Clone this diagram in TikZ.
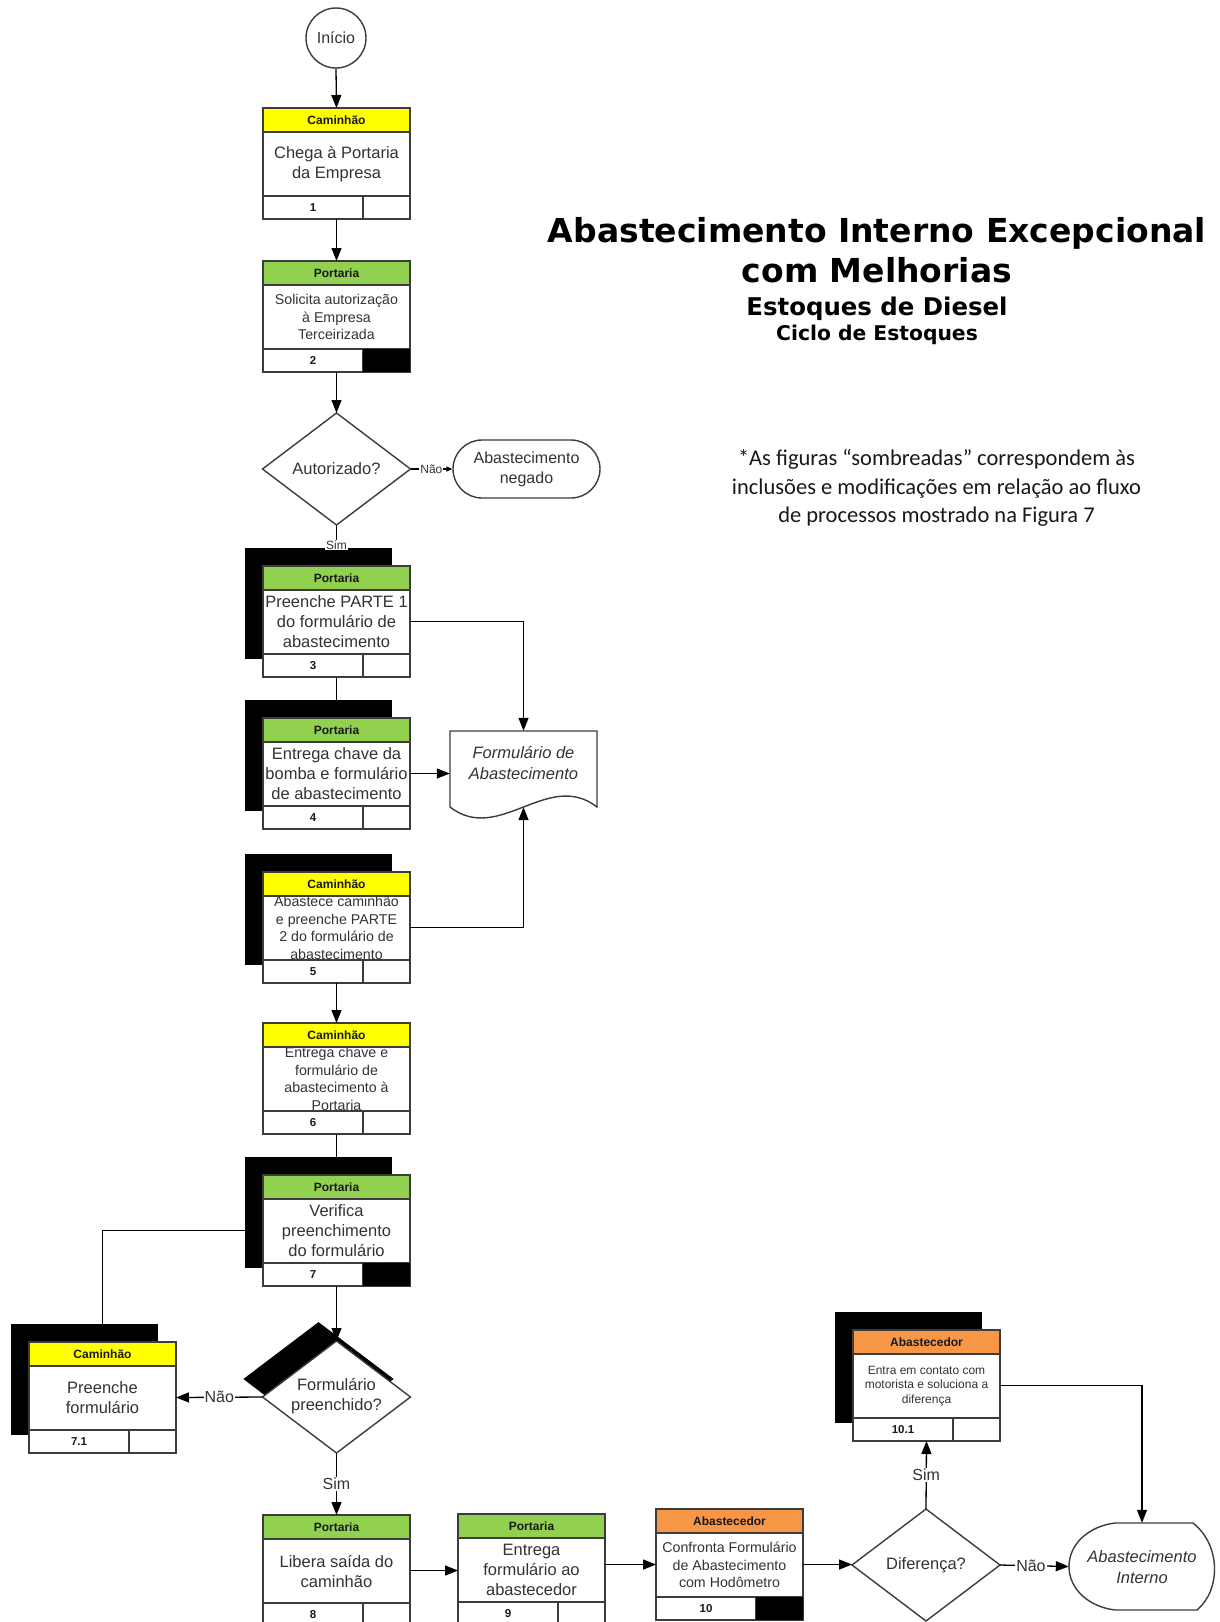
\documentclass[tikz,border=0pt]{standalone}
\usepackage{fontspec}
\setmainfont{Liberation Sans}
\newfontfamily\titlefam{DejaVu Sans}
\newfontfamily\notefam{Carlito}
\usetikzlibrary{arrows.meta,shapes.geometric}

\definecolor{boxline}{HTML}{3C3C3C}
\definecolor{bodyink}{HTML}{333333}
\definecolor{truck}{HTML}{FFFF00}
\definecolor{gate}{HTML}{92D050}
\definecolor{fueler}{HTML}{F79646}

\pgfdeclarelayer{back}
\pgfsetlayers{back,main}

\tikzset{
  boxframe/.style={draw=boxline, line width=1.4pt},
  hull/.style={rectangle, inner sep=0pt, outer sep=0pt, minimum width=147pt, minimum height=111pt, anchor=north west},
  bodytxt/.style={font=\fontsize{16.5}{20}\selectfont, text=bodyink, align=center, inner sep=0pt},
  bodysmall/.style={font=\fontsize{14.2}{17.5}\selectfont, text=bodyink, align=center, inner sep=0pt},
  bodytiny/.style={font=\fontsize{12}{14.7}\selectfont, text=bodyink, align=center, inner sep=0pt},
  bodyital/.style={font=\itshape\fontsize{16.5}{21}\selectfont, text=bodyink, align=center, inner sep=0pt},
  roletxt/.style={font=\bfseries\fontsize{12}{14}\selectfont, text=black!90, inner sep=0pt},
  stepno/.style={font=\bfseries\fontsize{11.5}{13}\selectfont, text=black!90, inner sep=0pt},
  decision/.style={diamond, boxframe, fill=white, minimum width=148pt, minimum height=112pt, inner sep=0pt, outer sep=0pt},
  conn/.style={draw=black, line width=1.3pt, -{Triangle[length=13pt,width=10pt]}},
  connsmall/.style={draw=black, line width=1.3pt, -{Triangle[length=6pt,width=5pt]}},
  lbl/.style={fill=white, inner sep=1pt, font=\fontsize{16}{18}\selectfont, text=bodyink},
  lblsmall/.style={fill=white, inner sep=1pt, font=\fontsize{12}{14}\selectfont, text=bodyink},
  titletxt/.style={font=\titlefam\bfseries\fontsize{33}{40}\selectfont, inner sep=0pt},
  notetxt/.style={font=\notefam\fontsize{22.5}{28}\selectfont, text=black!90, inner sep=0pt},
}

% process box: name, left x, top y, header colour, role, body style, body text, step number
\newcommand\procbox[8]{%
  \node[hull] (#1) at (#2,#3) {};
  \fill[white] (#2,#3) rectangle ++(147,111);
  \node[#6] (#1-txt) at (#2+73.5,#3+56) {#7};
  \fill[#4] (#2,#3) rectangle ++(147,24);
  \node[roletxt] (#1-role) at (#2+73.5,#3+12.5) {#5};
  \fill[white] (#2,#3+88) rectangle ++(147,23);
  \node[stepno] (#1-no) at (#2+50,#3+99.5) {#8};
  \draw[boxframe] (#2,#3) rectangle ++(147,111)
    (#2,#3+24) -- ++(147,0)
    (#2,#3+88) -- ++(147,0)
    (#2+100,#3+88) -- ++(0,23);
}
% black offset block behind a box
\newcommand\boxshade[2]{\fill[black] (#1-18,#2-18) rectangle ++(147,111);}
% filled right-hand cell of a box footer
\newcommand\blackcell[2]{\fill[black] (#1+100,#2+88) rectangle ++(47,23);}

\begin{document}
\begin{tikzpicture}[x=1pt,y=-1pt]
\clip (0,0) rectangle (1219,1622);
\begin{pgfonlayer}{back}
  \fill[white] (0,0) rectangle (1219,1622);
\end{pgfonlayer}

% ---------- title and note ----------
\node[titletxt, anchor=base] (title1) at (877,242) {Abastecimento Interno Excepcional};
\node[titletxt, anchor=base] (title2) at (877,282) {com Melhorias};
\node[titletxt, anchor=base, font=\titlefam\bfseries\fontsize{24.4}{28}\selectfont] (title3) at (877,315) {Estoques de Diesel};
\node[titletxt, anchor=base, font=\titlefam\bfseries\fontsize{20.3}{24}\selectfont] (title4) at (877,340) {Ciclo de Estoques};

\node[notetxt, anchor=base] (note1) at (936.5,465) {*As figuras “sombreadas” correspondem às};
\node[notetxt, anchor=base] (note2) at (936.5,494) {inclusões e modificações em relação ao fluxo};
\node[notetxt, anchor=base] (note3) at (936.5,522) {de processos mostrado na Figura 7};

% ---------- main column ----------
\node[circle, boxframe, fill=white, minimum size=60pt, inner sep=0pt, font=\fontsize{16}{18}\selectfont, text=bodyink] (start) at (336,38) {Início};

\procbox{b1}{263}{108}{truck}{Caminhão}{bodytxt}{Chega à Portaria\\da Empresa}{1}
\procbox{b2}{263}{261}{gate}{Portaria}{bodysmall}{Solicita autorização\\à Empresa\\Terceirizada}{2}
\blackcell{263}{261}

\node[decision] (d1) at (336.5,469) {};
\node[bodytxt] (d1-txt) at (336.5,469) {Autorizado?};

\node[boxframe, rectangle, rounded corners=29pt, fill=white, minimum width=147pt, minimum height=58pt, inner sep=0pt, bodytxt, font=\fontsize{16}{20}\selectfont] (t1) at (526.5,469) {Abastecimento\\negado};

\boxshade{263}{566}
\procbox{b3}{263}{566}{gate}{Portaria}{bodytxt}{Preenche PARTE 1\\do formulário de\\abastecimento}{3}

\boxshade{263}{718}
\procbox{b4}{263}{718}{gate}{Portaria}{bodytxt}{Entrega chave da\\bomba e formulário\\de abastecimento}{4}

% document symbol
\node[rectangle, inner sep=0pt, minimum width=147pt, minimum height=76pt] (doc) at (523.5,769) {};
\draw[boxframe, fill=white] (450,731) -- (597,731) -- (597,807)
  .. controls (548,769) and (499,845) .. (450,807) -- cycle;
\node[bodyital] (doc-txt) at (523.5,763) {Formulário de\\Abastecimento};

\boxshade{263}{872}
\procbox{b5}{263}{872}{truck}{Caminhão}{bodysmall}{Abastece caminhão\\e preenche PARTE\\2 do formulário de\\abastecimento}{5}

\procbox{b6}{263}{1023}{truck}{Caminhão}{bodysmall}{Entrega chave e\\formulário de\\abastecimento à\\Portaria}{6}

\boxshade{263}{1175}
\procbox{b7}{263}{1175}{gate}{Portaria}{bodytxt}{Verifica\\preenchimento\\do formulário}{7}
\blackcell{263}{1175}

\boxshade{29}{1342}
\procbox{b71}{29}{1342}{truck}{Caminhão}{bodytxt}{Preenche\\formulário}{7.1}

\node[decision, fill=black, draw=black] (d2s) at (318.5,1379) {};
\node[decision] (d2) at (336.5,1397) {};
\node[bodytxt] (d2-txt) at (336.5,1396) {Formulário\\preenchido?};

% ---------- bottom row ----------
\procbox{b8}{263}{1515}{gate}{Portaria}{bodytxt}{Libera saída do\\caminhão}{8}
\procbox{b9}{458}{1514}{gate}{Portaria}{bodytxt}{Entrega\\formulário ao\\abastecedor}{9}
\procbox{b10}{656}{1509}{fueler}{Abastecedor}{bodysmall}{Confronta Formulário\\de Abastecimento\\com Hodômetro}{10}
\blackcell{656}{1509}

\node[decision] (d3) at (926,1565) {};
\node[bodytxt] (d3-txt) at (926,1565) {Diferença?};

\boxshade{853}{1330}
\procbox{b101}{853}{1330}{fueler}{Abastecedor}{bodytiny}{Entra em contato com\\motorista e soluciona a\\diferença}{10.1}

% display terminator
\node[rectangle, inner sep=0pt, minimum width=146pt, minimum height=87pt] (t2) at (1142,1566.5) {};
\draw[boxframe, fill=white] (1115,1523) -- (1193,1523)
  .. controls (1221,1545) and (1221,1590) .. (1197,1610) -- (1115,1610)
  .. controls (1090,1607) and (1069,1590) .. (1069,1566.5)
  .. controls (1069,1543) and (1090,1526) .. (1115,1523) -- cycle;
\node[bodyital] (t2-txt) at (1142,1567) {Abastecimento\\Interno};

% ---------- connectors ----------
\begin{pgfonlayer}{back}
  \draw[conn] (d1.south) -- (b3.north);
  \draw[conn] (b3.south) -- (b4.north);
  \draw[conn] (b6.south) -- (b7.north);
  \draw[conn] (b7.west) -| (b71.north);
\end{pgfonlayer}

\draw[conn] (start.south) -- (b1.north);
\draw[conn] (b1.south) -- (b2.north);
\draw[conn] (b2.south) -- (d1.north);
\draw[connsmall] (d1.east) -- node[lblsmall] (nao1) {Não} (t1.west);
\node[lblsmall] (sim1) at (336.5,545) {Sim};
\draw[conn] (b3.east) -| (doc.north);
\draw[conn] (b4.east) -- (b4.east -| doc.west);
\draw[conn] (b5.east) -| (doc.south);
\draw[conn] (b5.south) -- (b6.north);
\draw[conn] (b7.south) -- (d2.north);
\draw[conn] (d2.west) -- node[lbl] (nao2) {Não} (b71.east);
\draw[conn] (d2.south) -- node[lbl] (sim2) {Sim} (b8.north);
\draw[conn] (b8.east) -- (b8.east -| b9.west);
\draw[conn] (b9.east |- b10.west) -- (b10.west);
\draw[conn] (b10.east) -- (b10.east -| d3.west);
\draw[conn] (d3.north) -- node[lbl] (sim3) {Sim} (b101.south);
\draw[conn] (d3.east) -- node[lbl, pos=0.45] (nao3) {Não} (t2.west);
\draw[conn] (b101.east) -| (t2.north);
\end{tikzpicture}
\end{document}
